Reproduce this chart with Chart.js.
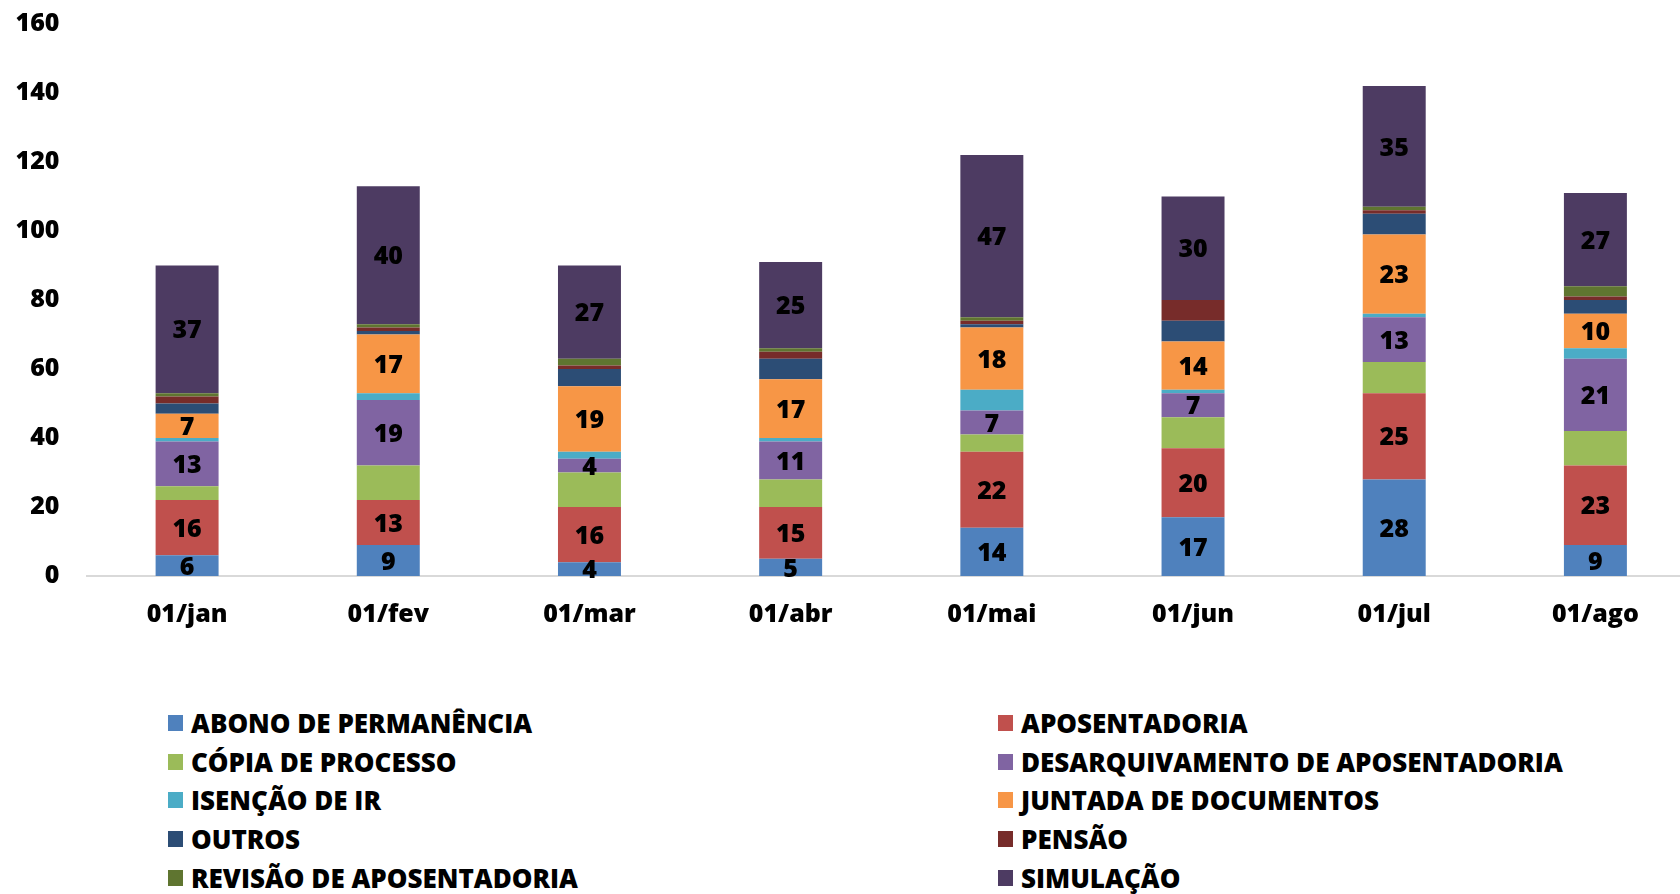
<!DOCTYPE html>
<html>
<head>
<meta charset="utf-8">
<script src="https://cdn.jsdelivr.net/npm/chart.js@4.4.1/dist/chart.umd.min.js"></script>
<style>
  body { margin: 0; background: #fff; overflow: hidden; font-family: 'Open Sans', sans-serif; }
  #wrap { position: relative; width: 1696px; height: 894px; }
  #chart { position: absolute; left: 0; top: 0; }
  .leg { position: absolute; height: 30px; line-height: 30px; font-size: 26px; font-weight: 800; color: #000; white-space: nowrap; }
  .leg span.caixa { position: absolute; left: 0; top: 7px; width: 15px; height: 16px; }
  .leg span.txt { position: absolute; left: 23px; top: 0; }
</style>
</head>
<body>
<div id="wrap">
  <canvas id="chart" width="1696" height="660"></canvas>
  <div id="legenda"></div>
</div>
<script>
  let categorias = ['01/jan', '01/fev', '01/mar', '01/abr', '01/mai', '01/jun', '01/jul', '01/ago'];
  let ticksY = [0, 20, 40, 60, 80, 100, 120, 140, 160];

  let abono = [6, 9, 4, 5, 14, 17, 28, 9];
  let aposentadoria = [16, 13, 16, 15, 22, 20, 25, 23];
  let copia = [4, 10, 10, 8, 5, 9, 9, 10];
  let desarquivamento = [13, 19, 4, 11, 7, 7, 13, 21];
  let isencao = [1, 2, 2, 1, 6, 1, 1, 3];
  let juntada = [7, 17, 19, 17, 18, 14, 23, 10];
  let outros = [3, 1, 5, 6, 1, 6, 6, 4];
  let pensao = [2, 1, 1, 2, 1, 6, 1, 1];
  let revisao = [1, 1, 2, 1, 1, 0, 1, 3];
  let simulacao = [37, 40, 27, 25, 47, 30, 35, 27];

  function serie(label, data, cor, rotulo) {
      return {
          label: label,
          data: data,
          backgroundColor: cor,
          borderWidth: 0,
          rotulo: rotulo,
          categoryPercentage: 1,
          barPercentage: 0.313,
      };
  }

  let datos = {
      labels: categorias,
      datasets: [
          serie('ABONO DE PERMANÊNCIA', abono, '#4F81BD', true),
          serie('APOSENTADORIA', aposentadoria, '#C0504D', true),
          serie('CÓPIA DE PROCESSO', copia, '#9BBB59', false),
          serie('DESARQUIVAMENTO DE APOSENTADORIA', desarquivamento, '#8064A2', true),
          serie('ISENÇÃO DE IR', isencao, '#4BACC6', false),
          serie('JUNTADA DE DOCUMENTOS', juntada, '#F79646', true),
          serie('OUTROS', outros, '#2C4D75', false),
          serie('PENSÃO', pensao, '#772C2A', false),
          serie('REVISÃO DE APOSENTADORIA', revisao, '#5F7530', false),
          serie('SIMULAÇÃO', simulacao, '#4D3B62', true),
      ]
  };

  const fonte = { family: "'Open Sans', sans-serif", size: 25, weight: '800' };

  // rotulos dentro das barras
  const rotulos = {
      id: 'rotulos',
      afterDatasetsDraw(chart) {
          const ctx = chart.ctx;
          ctx.save();
          ctx.font = '800 25px "Open Sans", sans-serif';
          ctx.fillStyle = '#000';
          ctx.textAlign = 'center';
          ctx.textBaseline = 'middle';
          chart.data.datasets.forEach((ds, i) => {
              if (!ds.rotulo) return;
              chart.getDatasetMeta(i).data.forEach((bar, j) => {
                  const v = ds.data[j];
                  if (!v) return;
                  ctx.fillText(String(v), bar.x, (bar.y + bar.base) / 2 + 2);
              });
          });
          ctx.restore();
      }
  };

  let opciones = {
      responsive: false,
      animation: false,
      devicePixelRatio: 1,
      layout: { padding: { top: 24, right: 0, left: 0, bottom: 0 } },
      scales: {
          x: {
              stacked: true,
              grid: { display: false, drawTicks: false },
              border: { display: true, color: '#d9d9d9', width: 2 },
              ticks: { color: '#000', font: fonte, padding: 24 },
              afterFit(scale) { scale.height = 84; }
          },
          y: {
              stacked: true,
              min: 0,
              max: 160,
              afterBuildTicks(scale) { scale.ticks = ticksY.map(v => ({ value: v })); },
              grid: { display: false, drawTicks: false },
              border: { display: false },
              ticks: { color: '#000', font: fonte, padding: 27 },
              afterFit(scale) {
                  scale.width = 86.5;
                  scale.paddingTop = 0;
                  scale.paddingBottom = 0;
              }
          }
      },
      plugins: {
          legend: { display: false },
          title: { display: false },
          tooltip: { enabled: false },
      },
  };

  let ctx = document.getElementById('chart').getContext('2d');
  let grafico = new Chart(ctx, {
      type: 'bar',
      data: datos,
      options: opciones,
      plugins: [rotulos],
  });

  // legenda em duas colunas
  const colX = [168, 998];
  const linhaY = [723, 762, 800, 839, 877.5];
  const leg = document.getElementById('legenda');
  datos.datasets.forEach((ds, i) => {
      const item = document.createElement('div');
      item.className = 'leg';
      item.style.left = colX[i % 2] + 'px';
      item.style.top = (linhaY[Math.floor(i / 2)] - 15) + 'px';
      item.innerHTML = '<span class="caixa" style="background:' + ds.backgroundColor + '"></span><span class="txt"></span>';
      item.querySelector('.txt').textContent = ds.label;
      leg.appendChild(item);
  });
</script>
</body>
</html>
